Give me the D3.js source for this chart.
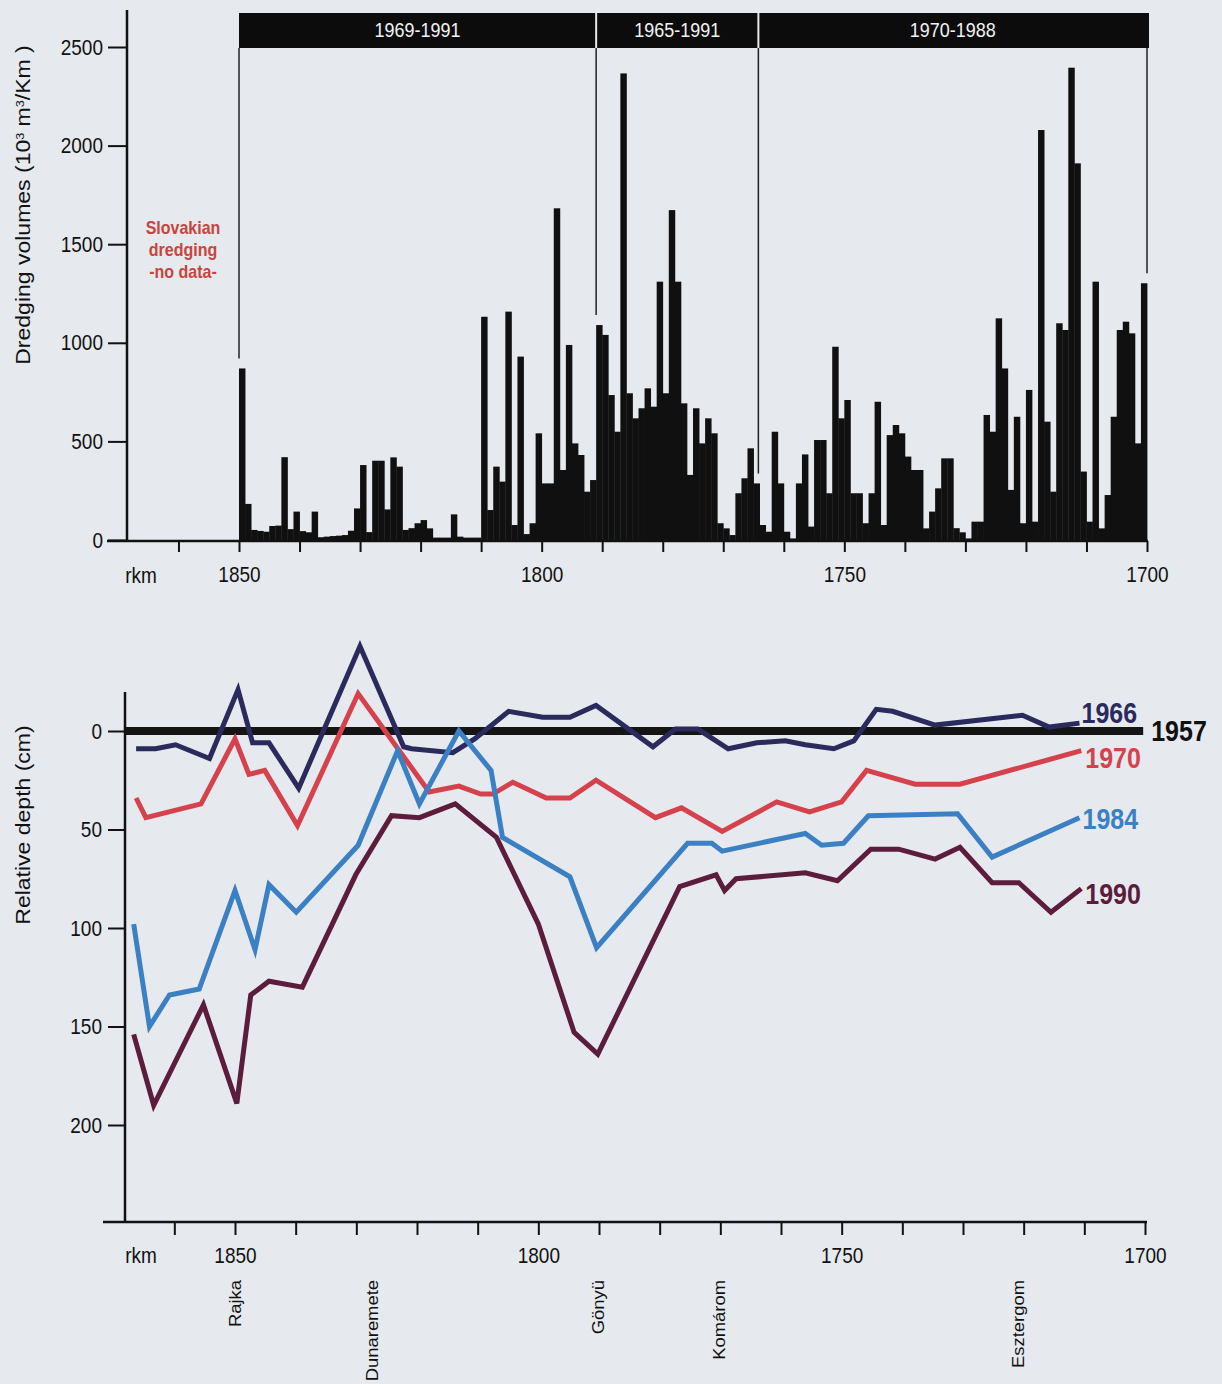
<!DOCTYPE html>
<html>
<head>
<meta charset="utf-8">
<script src="https://cdn.jsdelivr.net/npm/d3@7"></script>
<style>
  body { margin: 0; background: #e6e9ed; }
  svg { display: block; font-family: "Liberation Sans", Arial, Helvetica, sans-serif; }
</style>
</head>
<body>
<div id="chart"></div>
<script>
// ---------------- data ----------------
// dredging volumes (10^3 m3/km), one bar per river km, rkm 1850 -> 1701
const dredgeKm = d3.range(1850, 1700, -1);
const dredgeVolumes = [
  870, 183, 51, 46, 42, 71, 73, 420, 55, 144,
  45, 39, 144, 14, 17, 20, 22, 25, 47, 160,
  380, 40, 402, 402, 155, 419, 372, 51, 60, 85,
  101, 59, 12, 12, 12, 130, 17, 12, 12, 12,
  1132, 152, 372, 296, 1158, 76, 930, 30, 85, 541,
  287, 287, 1682, 355, 989, 490, 431, 245, 304, 1090,
  1040, 735, 549, 2366, 744, 617, 668, 769, 676, 1310,
  744, 1673, 1310, 693, 330, 668, 490, 617, 541, 85,
  59, 25, 237, 313, 465, 287, 76, 42, 549, 287,
  42, 8, 287, 434, 68, 507, 507, 237, 980, 617,
  710, 237, 237, 85, 237, 701, 76, 532, 583, 541,
  423, 355, 355, 59, 144, 262, 414, 414, 60, 39,
  8, 93, 93, 634, 549, 1124, 870, 254, 625, 85,
  761, 93, 2079, 600, 245, 1099, 1065, 2395, 1910, 347,
  93, 1310, 59, 228, 625, 1065, 1107, 1048, 490, 1302
];

const periods = ["1969-1991", "1965-1991", "1970-1988"];
const periodBounds = [1850, 1791, 1764.2, 1700];
const volumeTicks = [0, 500, 1000, 1500, 2000, 2500];
const kmTicks = d3.range(1860, 1699, -10);
const kmLabels = [1850, 1800, 1750, 1700];

// relative bed depth (cm) against 1957, [rkm, depth]
const depth1957 = [[1868, 0], [1700.3, 0]];
const depth1966 = [
  [1866.3, 9], [1863.1, 9], [1859.8, 7], [1854.2, 14], [1849.5, -21], [1847.1, 6],
  [1844.4, 6], [1839.5, 29], [1829.4, -43], [1822.2, 8], [1820.9, 9], [1814.1, 11],
  [1810.5, 4], [1804.9, -10], [1799.3, -7], [1794.8, -7], [1790.5, -13], [1781.1, 8],
  [1777.4, -1], [1773.7, -1], [1768.7, 9], [1764, 6], [1759.3, 5], [1756, 7],
  [1751.3, 9], [1748, 5], [1744.3, -11], [1741.6, -10], [1734.6, -3], [1720.2, -8],
  [1715.8, -2], [1710.8, -4]
];
const depth1970 = [
  [1866.3, 34], [1864.7, 44], [1855.6, 37], [1850, 4], [1847.7, 22], [1845.1, 20],
  [1839.7, 48], [1829.7, -19], [1818, 31], [1813.1, 28], [1809.5, 32], [1807.5, 32],
  [1804.2, 26], [1798.7, 34], [1794.8, 34], [1790.5, 25], [1780.7, 44], [1776.4, 39],
  [1769.7, 51], [1760.7, 36], [1755.3, 41], [1750, 36], [1745.9, 20], [1737.9, 27],
  [1730.5, 27], [1710.5, 10]
];
const depth1984 = [
  [1866.7, 98], [1864.1, 150], [1860.8, 134], [1855.9, 131], [1850, 81], [1846.7, 111],
  [1844.4, 78], [1839.9, 92], [1829.7, 58], [1823.2, 10], [1819.6, 37], [1813.1, 0],
  [1807.8, 20], [1805.9, 54], [1794.8, 74], [1790.4, 110], [1775.4, 57], [1771.4, 57],
  [1769.7, 61], [1756, 52], [1753.3, 58], [1749.7, 57], [1745.6, 43], [1730.9, 42],
  [1725.2, 64], [1710.8, 44]
];
const depth1990 = [
  [1866.7, 154], [1863.4, 190], [1855.2, 139], [1849.7, 189], [1847.4, 134], [1844.4, 127],
  [1838.9, 130], [1830.1, 73], [1824.2, 43], [1819.6, 44], [1813.7, 37], [1806.9, 54],
  [1800, 98], [1794.1, 153], [1790.2, 164], [1776.7, 79], [1770.7, 73], [1769.3, 81],
  [1767.4, 75], [1756, 72], [1750.7, 76], [1745.2, 60], [1740.6, 60], [1734.6, 65],
  [1730.5, 59], [1725.2, 77], [1720.8, 77], [1715.5, 92], [1710.5, 80]
];
const depthTicks = [0, 50, 100, 150, 200];

const places = ["Rajka", "Dunaremete", "Gönyü", "Komárom", "Esztergom"];
const placeKm = [1850, 1827.5, 1790.2, 1770.2, 1721];

// ---------------- layout ----------------
const svgWidth = 1222;
const svgHeight = 1384;
const STRETCH = 1.15;   // the printed lettering is a little tall

const series = [
  { year: "1957", data: depth1957, color: "#151515", width: 8, labelDx: 8, labelDy: 10 },
  { year: "1966", data: depth1966, color: "#2b2a5c", width: 5, labelDx: 2, labelDy: 0 },
  { year: "1970", data: depth1970, color: "#d5424d", width: 5, labelDx: 4, labelDy: 17 },
  { year: "1984", data: depth1984, color: "#3c80c4", width: 5, labelDx: 3, labelDy: 11 },
  { year: "1990", data: depth1990, color: "#5b1d3b", width: 5, labelDx: 4, labelDy: 15 }
];

const svg = d3.select("#chart")
  .append("svg")
  .attr("width", svgWidth)
  .attr("height", svgHeight);

function label(g, x, y, txt, opts = {}) {
  const rot = opts.rotate ? ` rotate(${opts.rotate})` : "";
  return g.append("text")
    .attr("transform", `translate(${x},${y}) scale(1,${STRETCH})${rot}`)
    .attr("text-anchor", opts.anchor || "middle")
    .attr("font-size", opts.size || 19)
    .attr("font-weight", opts.weight || "normal")
    .attr("fill", opts.fill || "#111")
    .attr("dy", opts.dy || null)
    .text(txt);
}

function stretchTicks(g) {
  g.selectAll(".tick text").each(function() {
    const t = d3.select(this);
    const x = +t.attr("x") || 0;
    const y = +t.attr("y") || 0;
    t.attr("x", null).attr("y", null)
      .attr("transform", `translate(${x},${y}) scale(1,${STRETCH})`);
  });
}

// ================= top panel: dredging volumes =================
const xTop = d3.scaleLinear().domain([1850, 1700]).range([239, 1147]);
const yTop = d3.scaleLinear().domain([0, 2500]).range([540, 47]);
const topAxisX = 127;
const topAxisTop = 10;
const bandTop = 13;
const bandBottom = 48;

const topG = svg.append("g");

// bars
topG.append("g")
  .selectAll("rect")
  .data(dredgeVolumes)
  .join("rect")
  .attr("x", (d, i) => xTop(dredgeKm[i]))
  .attr("width", (d, i) => xTop(dredgeKm[i] - 1) - xTop(dredgeKm[i]) + 0.4)
  .attr("y", d => yTop(d))
  .attr("height", d => yTop(0) - yTop(d))
  .attr("fill", "#101010");

// period band
topG.append("rect")
  .attr("x", xTop(periodBounds[0]))
  .attr("width", xTop(periodBounds[3]) - xTop(periodBounds[0]) + 2)
  .attr("y", bandTop)
  .attr("height", bandBottom - bandTop)
  .attr("fill", "#0c0c0c");

periods.forEach((p, i) => {
  const x0 = xTop(periodBounds[i]);
  const x1 = xTop(periodBounds[i + 1]);
  label(topG, (x0 + x1) / 2, 37, p, { size: 18, fill: "#f2f2f2" });
  if (i > 0) {
    topG.append("line")
      .attr("x1", x0).attr("x2", x0)
      .attr("y1", bandTop).attr("y2", bandBottom)
      .attr("stroke", "#e8e8e8").attr("stroke-width", 2);
  }
});

// thin boundary lines down to the bars
periodBounds.forEach(b => {
  const near = dredgeVolumes.filter((v, i) => Math.abs(dredgeKm[i] - 0.5 - b) <= 1);
  topG.append("line")
    .attr("x1", xTop(b)).attr("x2", xTop(b))
    .attr("y1", bandBottom)
    .attr("y2", yTop(d3.max(near)) - 10)
    .attr("stroke", "#222")
    .attr("stroke-width", 1.5);
});

// y axis
const yAxisTop = topG.append("g")
  .attr("transform", `translate(${topAxisX},0)`)
  .call(d3.axisLeft(yTop).tickValues(volumeTicks).tickSize(19).tickPadding(5)
    .tickFormat(d3.format("d")));
yAxisTop.select(".domain").remove();
yAxisTop.selectAll(".tick line").attr("stroke", "#111").attr("stroke-width", 2);
yAxisTop.selectAll(".tick text").attr("font-size", 19).attr("fill", "#111").attr("font-family", null);
stretchTicks(yAxisTop);
topG.append("line")
  .attr("x1", topAxisX).attr("x2", topAxisX)
  .attr("y1", topAxisTop).attr("y2", yTop(0) + 1.5)
  .attr("stroke", "#111").attr("stroke-width", 2.5);

// x axis
const xAxisTop = topG.append("g")
  .attr("transform", `translate(0,${yTop(0) + 1})`)
  .call(d3.axisBottom(xTop).tickValues(kmTicks).tickSize(11).tickPadding(14)
    .tickFormat(d => kmLabels.includes(d) ? d : ""));
xAxisTop.select(".domain").remove();
xAxisTop.selectAll(".tick line").attr("stroke", "#111").attr("stroke-width", 2);
xAxisTop.selectAll(".tick text").attr("font-size", 19).attr("fill", "#111").attr("font-family", null);
stretchTicks(xAxisTop);
topG.append("line")
  .attr("x1", 107).attr("x2", xTop(1700) + 1)
  .attr("y1", yTop(0) + 1).attr("y2", yTop(0) + 1)
  .attr("stroke", "#111").attr("stroke-width", 2.5);
label(topG, 141, yTop(0) + 27, "rkm", { dy: "0.71em" });

// y title
const yTitleTop = label(topG, 30, 205, "", { rotate: -90, size: 20 });
yTitleTop.append("tspan").text("Dredging volumes (10");
yTitleTop.append("tspan").attr("baseline-shift", "super").attr("font-size", 11).text("3");
yTitleTop.append("tspan").text(" m");
yTitleTop.append("tspan").attr("baseline-shift", "super").attr("font-size", 11).text("3");
yTitleTop.append("tspan").text("/Km )");

// no-data note
["Slovakian", "dredging", "-no data-"].forEach((t, i) => {
  label(topG, 183, 234 + i * 22, t, { size: 16, weight: "bold", fill: "#c8453f" });
});

// ================= bottom panel: relative depth =================
const xBot = d3.scaleLinear().domain([1850, 1700]).range([235, 1145]);
const yBot = d3.scaleLinear().domain([0, 200]).range([731, 1125]);
const botAxisX = 125;
const botAxisTop = 692;
const botAxisY = 1222;

const botG = svg.append("g");

// y axis
const yAxisBot = botG.append("g")
  .attr("transform", `translate(${botAxisX},0)`)
  .call(d3.axisLeft(yBot).tickValues(depthTicks).tickSize(17).tickPadding(6));
yAxisBot.select(".domain").remove();
yAxisBot.selectAll(".tick line").attr("stroke", "#111").attr("stroke-width", 2);
yAxisBot.selectAll(".tick text").attr("font-size", 19).attr("fill", "#111").attr("font-family", null);
stretchTicks(yAxisBot);
botG.append("line")
  .attr("x1", botAxisX).attr("x2", botAxisX)
  .attr("y1", botAxisTop).attr("y2", botAxisY + 1)
  .attr("stroke", "#111").attr("stroke-width", 2.5);

// x axis
const xAxisBot = botG.append("g")
  .attr("transform", `translate(0,${botAxisY})`)
  .call(d3.axisBottom(xBot).tickValues(kmTicks).tickSize(13).tickPadding(12)
    .tickFormat(d => kmLabels.includes(d) ? d : ""));
xAxisBot.select(".domain").remove();
xAxisBot.selectAll(".tick line").attr("stroke", "#111").attr("stroke-width", 2);
xAxisBot.selectAll(".tick text").attr("font-size", 19).attr("fill", "#111").attr("font-family", null);
stretchTicks(xAxisBot);
botG.append("line")
  .attr("x1", 103).attr("x2", xBot(1700) + 2)
  .attr("y1", botAxisY).attr("y2", botAxisY)
  .attr("stroke", "#111").attr("stroke-width", 2.5);
label(botG, 141, botAxisY + 25, "rkm", { dy: "0.71em" });

// y title
label(botG, 30, 825, "Relative depth (cm)", { rotate: -90, size: 20 });

// place names
places.forEach((p, i) => {
  label(botG, xBot(placeKm[i]) + 6, 1280, p, { rotate: -90, size: 16, anchor: "end" });
});

// depth lines
const line = d3.line()
  .x(d => xBot(d[0]))
  .y(d => yBot(d[1]));

series.forEach(s => {
  botG.append("path")
    .datum(s.data)
    .attr("d", line)
    .attr("fill", "none")
    .attr("stroke", s.color)
    .attr("stroke-width", s.width)
    .attr("stroke-linejoin", "miter")
    .attr("stroke-miterlimit", 4);
});

series.forEach(s => {
  const last = s.data[s.data.length - 1];
  label(botG, xBot(last[0]) + s.labelDx, yBot(last[1]) + s.labelDy, s.year,
    { anchor: "start", size: 25, weight: "bold", fill: s.color === "#151515" ? "#111" : s.color });
});
</script>
</body>
</html>
